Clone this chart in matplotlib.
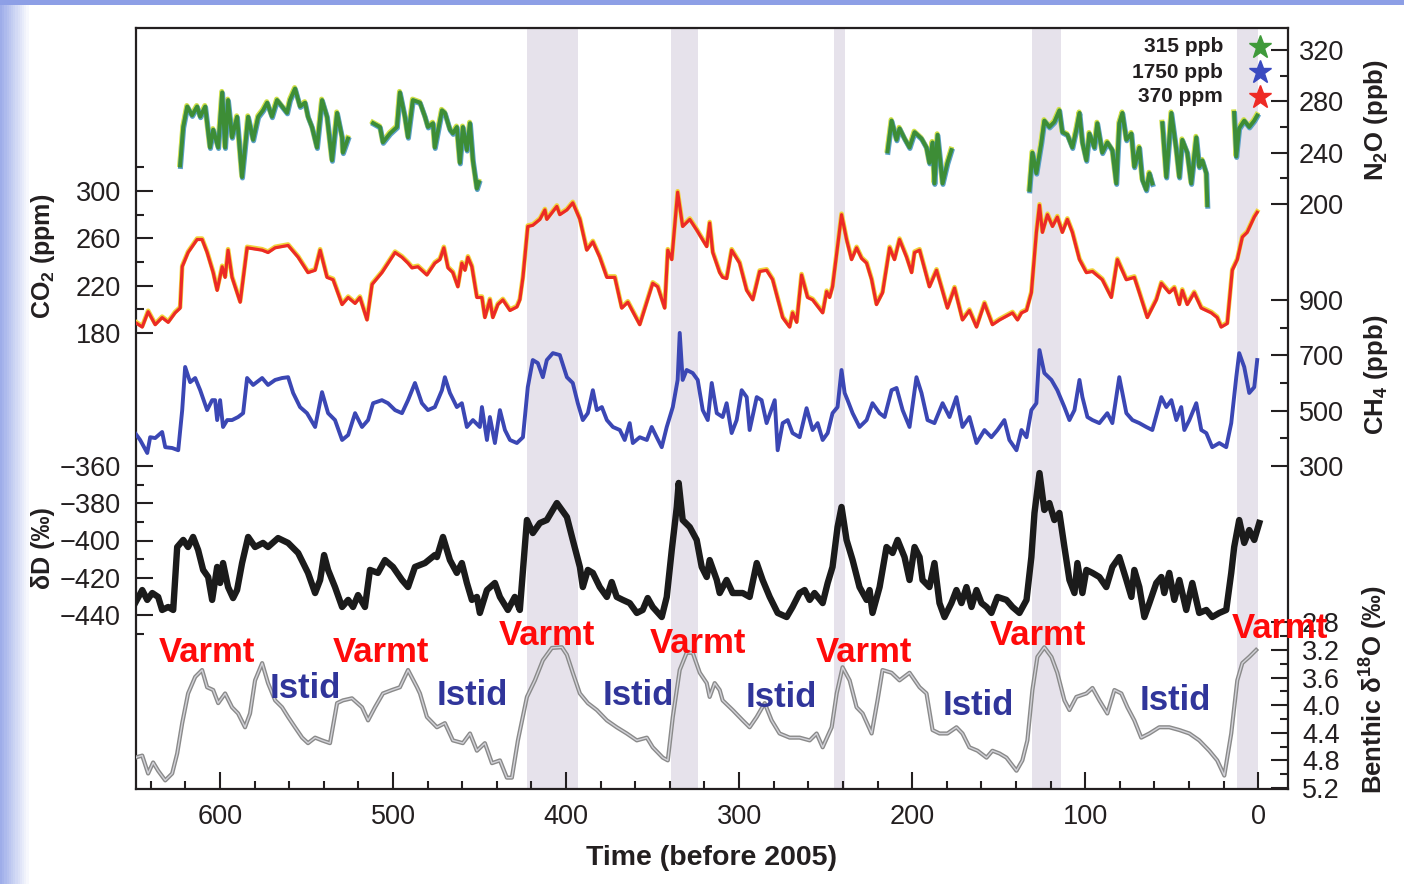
import numpy as np
import matplotlib
matplotlib.use("Agg")
import matplotlib.pyplot as plt
import matplotlib.patheffects as pe
from matplotlib.patches import Rectangle

plt.rcParams['font.family'] = ['Liberation Sans', 'DejaVu Sans']
plt.rcParams['mathtext.fontset'] = 'custom'
plt.rcParams['mathtext.rm'] = 'Liberation Sans'
plt.rcParams['mathtext.bf'] = 'Liberation Sans:bold'
plt.rcParams['mathtext.it'] = 'Liberation Sans:italic'

# ---------------- data (time in kyr before 2005) ----------------
CO2_T = [649.0, 644.9, 641.5, 637.4, 633.4, 629.9, 625.9, 623.0, 621.8, 618.4, 613.2, 610.3, 607.4, 603.9,
         601.6, 598.7, 597.0, 595.3, 593.0, 588.3, 584.3, 575.6, 572.2, 568.1, 560.6, 554.8, 549.1, 545.0,
         542.1, 538.1, 534.6, 529.4, 525.9, 521.9, 519.1, 515.0, 512.1, 506.4, 498.8, 494.8, 491.3, 489.0,
         485.6, 480.4, 475.8, 472.9, 470.6, 468.2, 465.4, 462.5, 460.2, 458.4, 456.7, 454.4, 451.5, 448.6,
         446.9, 444.0, 442.3, 439.4, 436.5, 432.4, 428.4, 426.7, 424.9, 422.1, 419.2, 415.1, 412.2, 411.1,
         405.3, 403.6, 399.5, 396.1, 392.0, 388.0, 384.5, 380.5, 376.4, 371.8, 367.8, 364.3, 357.4, 349.9,
         347.0, 343.0, 341.2, 338.9, 335.5, 332.6, 328.5, 324.5, 318.7, 317.0, 315.2, 311.2, 309.5, 307.2,
         304.3, 299.7, 295.6, 292.1, 288.1, 284.1, 280.6, 274.8, 270.8, 269.1, 266.7, 263.9, 260.4, 257.5,
         251.7, 249.4, 247.7, 246.0, 240.8, 237.9, 235.0, 232.1, 229.2, 226.3, 223.4, 220.6, 217.1, 213.0,
         210.2, 207.3, 203.2, 200.3, 198.6, 195.7, 190.0, 185.9, 179.6, 175.5, 170.9, 166.9, 162.8, 158.2,
         153.6, 149.5, 142.0, 139.1, 136.8, 133.9, 131.1, 128.2, 126.4, 124.7, 121.8, 118.9, 116.1, 113.2,
         110.3, 107.4, 103.3, 99.3, 95.8, 90.1, 84.9, 81.4, 76.2, 71.6, 68.7, 64.1, 58.9, 56.0, 51.4, 48.5,
         45.6, 43.9, 41.0, 37.0, 32.9, 27.1, 23.7, 21.4, 17.9, 15.0, 12.1, 9.2, 6.4, 2.3, 0.6]
CO2_V = [189, 185, 198, 187, 193, 189, 197, 201, 236, 248, 259, 259, 248, 231,
         216, 236, 227, 250, 227, 206, 252, 250, 248, 252, 254, 244, 231, 233,
         250, 227, 225, 204, 210, 205, 210, 191, 221, 231, 248, 244, 239, 235,
         236, 229, 239, 242, 252, 235, 231, 219, 239, 233, 244, 236, 210, 210,
         193, 208, 193, 204, 208, 199, 202, 208, 227, 270, 271, 276, 284, 276,
         287, 280, 284, 290, 276, 250, 257, 244, 227, 227, 201, 206, 187, 222,
         219, 201, 250, 242, 299, 270, 276, 267, 253, 273, 248, 231, 227, 226,
         250, 239, 216, 208, 232, 233, 225, 193, 185, 197, 189, 229, 210, 208,
         197, 215, 210, 219, 280, 259, 242, 252, 243, 239, 225, 204, 214, 252,
         242, 259, 244, 231, 248, 250, 219, 233, 201, 218, 191, 199, 185, 205,
         187, 191, 197, 191, 197, 199, 214, 265, 288, 265, 280, 270, 278, 265,
         276, 265, 242, 231, 232, 225, 210, 242, 225, 227, 214, 193, 208, 222, 214, 218,
         204, 216, 204, 214, 201, 197, 193, 185, 188, 233, 242, 261, 265, 278, 282]

CH4_T = [649.0, 646.1, 642.0, 640.3, 637.4, 633.4, 631.6, 627.6, 624.1, 621.8, 620.1, 617.2, 614.3, 611.4,
         607.4, 604.5, 602.8, 601.6, 599.9, 598.2, 595.8, 593.0, 589.5, 586.6, 584.3, 580.8, 575.6, 572.2,
         568.1, 564.1, 560.6, 557.7, 553.7, 549.7, 545.0, 541.0, 537.5, 533.5, 529.4, 525.9, 521.9, 517.9,
         514.4, 511.5, 506.4, 502.9, 498.8, 494.8, 491.3, 487.3, 483.3, 479.8, 475.8, 471.7, 470.0, 467.1,
         463.1, 460.2, 457.3, 453.8, 449.8, 448.6, 445.7, 444.0, 441.1, 438.2, 435.3, 432.4, 428.4, 424.9,
         422.1, 419.2, 416.3, 413.4, 411.1, 407.6, 403.6, 399.5, 396.1, 393.2, 390.3, 387.4, 384.5, 382.2,
         379.3, 376.4, 372.9, 368.9, 366.1, 363.2, 361.4, 357.4, 353.3, 350.5, 347.6, 344.7, 341.8, 338.3,
         335.5, 334.3, 332.6, 330.3, 326.8, 323.9, 321.0, 318.1, 315.8, 312.9, 309.5, 307.2, 304.3, 301.4,
         298.5, 295.6, 293.9, 289.8, 287.0, 284.1, 279.4, 277.7, 274.8, 271.9, 269.1, 265.0, 261.0, 257.5,
         254.6, 251.7, 248.8, 246.0, 243.1, 240.8, 239.0, 237.3, 234.4, 230.4, 226.3, 222.9, 218.8, 215.9,
         211.9, 209.0, 205.5, 201.5, 197.5, 194.6, 191.1, 187.1, 182.4, 178.4, 174.4, 170.9, 166.9, 162.8,
         158.2, 154.2, 150.7, 146.7, 143.8, 139.7, 136.8, 133.9, 131.1, 128.2, 126.4, 123.6, 119.5, 116.1,
         112.0, 109.1, 106.2, 103.3, 101.6, 98.7, 95.8, 91.8, 87.2, 84.3, 80.3, 76.2, 72.7, 68.7, 64.7, 61.2,
         56.0, 53.1, 50.2, 47.3, 44.5, 42.7, 39.8, 35.8, 32.9, 30.0, 26.6, 22.5, 18.5, 15.6, 12.7, 11.0,
         8.1, 5.2, 2.3, 0.6]
CH4_V = [419, 394, 347, 404, 401, 423, 368, 365, 357, 502, 658, 603, 618, 574,
         502, 538, 538, 466, 538, 441, 466, 466, 477, 491, 618, 593, 618, 593,
         611, 618, 621, 564, 513, 491, 441, 567, 491, 466, 394, 412, 491, 441,
         466, 527, 538, 527, 502, 491, 538, 600, 527, 502, 513, 574, 621, 564,
         513, 527, 441, 466, 441, 513, 394, 477, 383, 502, 430, 394, 383, 404,
         585, 683, 672, 621, 683, 708, 701, 621, 600, 527, 466, 491, 574, 502,
         513, 466, 441, 430, 394, 455, 383, 404, 394, 441, 404, 368, 441, 513,
         611, 781, 611, 647, 636, 611, 502, 466, 600, 491, 477, 527, 419, 466,
         574, 549, 430, 549, 538, 455, 538, 357, 455, 466, 419, 404, 509, 430,
         455, 394, 419, 491, 513, 647, 564, 538, 491, 441, 466, 527, 491, 477,
         574, 582, 502, 441, 621, 564, 466, 455, 527, 477, 549, 441, 477, 383,
         430, 404, 430, 466, 394, 357, 430, 404, 502, 527, 719, 636, 611, 574,
         513, 466, 502, 611, 549, 477, 466, 455, 491, 455, 621, 491, 466, 455, 441, 430,
         549, 513, 538, 466, 513, 430, 466, 527, 430, 419, 368, 383, 368, 455, 621, 708,
         658, 564, 585, 683]

# N2O has gaps in the record (nan separates the pieces)
N2O_T = [623.0, 621.2, 618.9, 616.1, 613.2, 611.4, 608.5, 605.7, 603.9, 601.0, 598.7, 597.0, 595.3, 593.0,
         590.1, 587.2, 583.7, 580.8, 577.9, 575.1, 572.7, 569.9, 567.0, 564.1, 561.2, 559.5, 556.6, 553.7,
         550.8, 549.1, 546.8, 543.9, 541.0, 538.1, 535.2, 532.3, 529.4, 528.9, 526.0, np.nan,
         511.5, 507.5, 505.8, 501.7, 497.7, 496.0, 493.1, 491.3, 488.5, 484.4, 481.5, 479.8, 476.9, 475.8,
         471.7, 470.0, 467.1, 465.4, 463.1, 461.3, 459.6, 457.3, 455.5, 453.8, 451.5, 450.3, np.nan,
         214.2, 211.9, 209.0, 207.3, 204.4, 201.5, 198.6, 194.6, 191.7, 190.0, 188.2, 187.1, 185.3, 182.4,
         179.6, 177.3, np.nan,
         132.2, 130.5, 128.2, 125.3, 123.6, 120.7, 117.8, 114.9, 113.2, 110.3, 107.4, 105.1, 103.3, 101.6,
         99.3, 97.6, 94.7, 93.0, 90.1, 87.2, 84.3, 82.0, 80.3, 78.5, 76.2, 73.3, 71.6, 68.7, 67.0, 64.7,
         62.9, 61.2, np.nan,
         55.4, 53.1, 50.2, 47.3, 45.6, 43.9, 41.0, 38.7, 35.8, 34.1, 32.3, 30.0, 29.4, np.nan,
         13.9, 12.7, 11.0, 8.1, 5.2, 2.3, 0.6]
N2O_V = [230, 260, 276, 269, 276, 268, 276, 244, 258, 244, 287, 244, 281, 252,
         268, 221, 268, 250, 268, 273, 279, 268, 281, 276, 271, 281, 290, 276,
         279, 268, 260, 244, 281, 268, 234, 271, 252, 240, 251, np.nan,
         263, 260, 248, 255, 260, 287, 268, 252, 281, 279, 268, 260, 263, 244,
         273, 271, 258, 255, 260, 232, 260, 242, 263, 234, 212, 217, np.nan,
         241, 265, 250, 259, 251, 244, 256, 251, 244, 232, 248, 216, 254, 216,
         232, 242, np.nan,
         211, 240, 224, 248, 265, 260, 264, 273, 256, 254, 244, 258, 271, 248,
         234, 255, 244, 263, 240, 248, 242, 216, 263, 271, 250, 255, 229, 244, 219, 211,
         224, 216, np.nan,
         263, 221, 271, 242, 221, 250, 240, 216, 252, 229, 234, 224, 199, np.nan,
         271, 237, 259, 265, 260, 265, 269]

DD_T = [649.0, 644.9, 642.0, 639.1, 635.7, 633.4, 629.9, 627.0, 624.7, 621.2, 618.4, 615.5, 612.6, 609.7,
        606.8, 604.5, 601.6, 599.9, 598.2, 595.3, 592.4, 590.1, 587.2, 583.7, 579.7, 575.1, 572.2, 566.4,
        560.6, 554.8, 549.1, 545.0, 542.1, 539.8, 537.5, 533.5, 529.4, 525.9, 523.1, 520.2, 516.2, 513.3,
        508.7, 504.6, 500.0, 494.8, 491.3, 487.3, 481.5, 475.8, 474.6, 471.1, 467.1, 463.1, 460.2, 457.3,
        454.4, 451.5, 449.8, 445.7, 441.1, 438.2, 433.6, 429.6, 426.7, 422.6, 419.2, 415.1, 411.1, 405.3,
        399.5, 396.1, 392.0, 390.3, 387.4, 384.5, 380.5, 376.4, 373.6, 370.7, 367.2, 363.2, 359.1, 355.7,
        352.8, 349.9, 344.7, 341.8, 338.9, 336.0, 334.9, 332.6, 328.5, 324.5, 321.6, 318.7, 317.0, 312.9,
        311.2, 307.2, 303.7, 297.9, 293.9, 289.8, 286.4, 282.3, 277.7, 272.5, 269.1, 265.0, 262.1, 259.2,
        256.4, 251.7, 248.8, 246.0, 243.1, 240.8, 237.9, 234.4, 230.4, 226.3, 224.6, 222.9, 218.8, 214.8,
        211.3, 208.4, 204.4, 201.5, 198.6, 195.7, 194.0, 190.0, 187.1, 184.2, 181.3, 177.3, 174.4, 171.5,
        168.6, 165.7, 162.8, 159.9, 157.0, 154.2, 150.7, 145.5, 142.0, 138.0, 133.9, 131.1, 129.3, 126.4,
        123.6, 120.7, 117.8, 114.9, 112.0, 109.1, 106.2, 104.5, 101.6, 99.3, 95.8, 91.8, 87.8, 84.3, 80.3,
        76.2, 73.3, 71.6, 68.7, 65.8, 62.9, 58.9, 56.0, 54.3, 51.4, 48.5, 45.6, 41.6, 38.1, 34.1, 30.0,
        26.6, 22.5, 18.5, 15.6, 13.9, 11.0, 8.1, 5.2, 2.3, -0.6]
DD_V = [-433.6, -426.6, -431.9, -428.2, -430.3, -437.3, -435.7, -437.3, -403.5, -399.7, -403.5, -398.1,
        -405.1, -415.8, -419.6, -431.9, -414.2, -422.8, -412.1, -425.0, -430.9, -426.6, -412.1, -398.1,
        -403.5, -401.3, -403.5, -398.7, -401.3, -406.7, -417.4, -428.2, -421.2, -407.8, -415.8, -425.0,
        -435.7, -431.9, -435.7, -429.3, -435.7, -415.8, -417.4, -410.5, -414.2, -421.2, -425.0, -414.2,
        -412.1, -407.8, -408.9, -398.1, -410.5, -417.4, -412.1, -422.8, -431.9, -430.3, -438.9, -426.6,
        -422.8, -430.3, -437.3, -430.3, -437.3, -389.0, -396.0, -390.6, -389.0, -379.9, -387.4, -399.7,
        -414.2, -425.0, -415.8, -417.4, -425.0, -430.3, -422.3, -430.3, -431.9, -433.6, -438.9, -437.3,
        -430.9, -435.7, -441.1, -430.3, -405.1, -382.0, -369.1, -389.0, -392.8, -399.7, -414.2, -419.6,
        -410.5, -421.2, -428.2, -421.2, -428.2, -428.2, -430.3, -412.1, -421.2, -430.3, -438.9, -441.1,
        -435.7, -428.2, -426.6, -431.9, -428.2, -433.6, -422.8, -414.2, -392.8, -382.0, -399.7, -410.5,
        -425.0, -431.9, -426.6, -438.9, -425.0, -403.5, -406.7, -399.7, -408.9, -421.2, -403.5, -408.9,
        -421.2, -425.0, -412.1, -433.6, -441.1, -433.6, -426.6, -433.6, -425.0, -435.7, -426.6, -433.6,
        -435.7, -438.9, -430.3, -431.9, -435.7, -438.9, -431.9, -408.9, -385.2, -363.8, -383.6, -379.9,
        -389.0, -385.2, -403.5, -421.2, -428.2, -412.1, -428.2, -415.8, -417.4, -419.6, -425.0, -414.2,
        -408.9, -421.2, -430.3, -415.8, -425.0, -441.1, -433.6, -422.8, -419.6, -428.2, -417.4, -431.9,
        -421.2, -437.3, -422.8, -438.9, -437.3, -441.1, -438.9, -437.3, -417.4, -403.5, -389.0, -401.3,
        -394.4, -399.7, -390.6]

D18O_T = [649.0, 644.9, 641.5, 638.6, 635.7, 631.6, 627.6, 624.7, 621.8, 618.4, 614.3, 610.3, 607.4, 603.9,
          601.0, 597.0, 593.0, 589.5, 585.5, 582.6, 579.7, 575.6, 572.2, 568.1, 564.1, 560.6, 556.6, 552.5,
          549.1, 545.0, 541.0, 536.4, 532.3, 528.9, 523.7, 517.9, 514.4, 510.4, 505.8, 500.6, 496.0, 491.3,
          486.1, 484.4, 480.4, 474.6, 470.0, 465.4, 459.6, 455.5, 451.5, 446.9, 442.8, 438.2, 434.2, 431.3,
          427.8, 422.6, 418.0, 413.4, 408.2, 402.4, 399.5, 396.1, 392.0, 387.4, 382.2, 376.4, 370.7, 364.9,
          359.1, 353.3, 349.9, 344.1, 341.2, 338.3, 334.3, 330.3, 326.8, 322.7, 318.7, 317.0, 314.1, 311.2,
          309.5, 303.7, 297.9, 293.9, 289.8, 285.2, 281.2, 276.6, 270.8, 265.0, 259.2, 255.2, 251.7, 246.5,
          243.6, 240.2, 236.1, 232.1, 228.6, 223.4, 220.0, 217.1, 211.9, 207.3, 201.5, 195.7, 191.7, 188.2,
          184.2, 179.6, 174.4, 170.9, 166.9, 162.2, 157.0, 153.6, 149.5, 145.5, 139.7, 136.3, 133.4, 130.5,
          127.6, 123.6, 119.5, 116.1, 112.0, 109.1, 105.1, 99.3, 95.8, 91.8, 87.2, 83.1, 79.1, 75.6, 71.6,
          67.6, 62.9, 57.2, 51.4, 45.6, 39.8, 34.1, 28.3, 23.7, 19.6, 15.6, 12.1, 9.2, 5.2, 1.2]
D18O_V = [4.76, 4.73, 4.99, 4.83, 4.95, 5.09, 4.99, 4.70, 4.26, 3.83, 3.59, 3.49, 3.74, 3.78,
          3.97, 3.83, 4.03, 4.12, 4.32, 4.12, 3.64, 3.39, 3.68, 3.93, 4.03, 4.17, 4.32, 4.47,
          4.55, 4.47, 4.51, 4.55, 3.97, 3.93, 3.90, 4.03, 4.22, 4.03, 3.83, 3.78, 3.74, 3.49,
          3.74, 3.83, 4.17, 4.32, 4.26, 4.51, 4.55, 4.41, 4.66, 4.55, 4.84, 4.80, 5.05, 5.05,
          4.51, 3.88, 3.64, 3.35, 3.17, 3.16, 3.27, 3.53, 3.83, 3.97, 4.07, 4.22, 4.32, 4.41,
          4.51, 4.47, 4.61, 4.76, 4.80, 4.17, 3.49, 3.24, 3.24, 3.53, 3.68, 3.88, 3.68, 3.78,
          3.93, 4.07, 4.22, 4.32, 4.17, 3.97, 4.22, 4.41, 4.47, 4.47, 4.51, 4.41, 4.61, 4.32,
          3.83, 3.45, 3.64, 4.03, 4.12, 4.41, 3.93, 3.49, 3.53, 3.64, 3.53, 3.74, 3.83, 4.36,
          4.41, 4.41, 4.32, 4.41, 4.61, 4.66, 4.76, 4.66, 4.70, 4.76, 4.95, 4.80, 4.51, 3.78,
          3.30, 3.16, 3.30, 3.53, 3.93, 4.07, 3.88, 3.83, 3.75, 3.93, 4.12, 3.78, 3.83, 4.03, 4.22,
          4.47, 4.41, 4.32, 4.32, 4.36, 4.41, 4.51, 4.66, 4.80, 5.02, 4.41, 3.64, 3.39, 3.30, 3.20]

# interglacial (warm) bands, kyr
BANDS = [(422.7, 393.3), (339.6, 324.0), (244.9, 238.6), (130.6, 113.9), (12.2, 0.0)]

# modern reference values shown as stars
MODERN_LABELS = ['315 ppb', '1750 ppb', '370 ppm']
MODERN_COLORS = ['#3f9a3a', '#3a4ac0', '#ee2a24']

# tick values
X_MAJOR = [600, 500, 400, 300, 200, 100, 0]
X_MINOR = list(range(0, 641, 20))
CO2_TICKS = [180, 220, 260, 300]
CO2_MINOR = [200, 240, 280, 320]
N2O_TICKS = [200, 240, 280, 320]
N2O_MINOR = [220, 260, 300]
CH4_TICKS = [300, 500, 700, 900]
CH4_MINOR = [400, 600, 800]
DD_TICKS = [-440, -420, -400, -380, -360]
DD_MINOR = [-450, -430, -410, -390, -370]
D18O_TICKS = [2.8, 3.2, 3.6, 4.0, 4.4, 4.8, 5.2]
D18O_MINOR = [3.0, 3.4, 3.8, 4.2, 4.6, 5.0]

WARM_LABEL = 'Varmt'
COLD_LABEL = 'Istid'

# ---------------- layout ----------------
W, H = 1404, 884
fig = plt.figure(figsize=(W / 100, H / 100), dpi=100, facecolor='white')


def fx(px):
    return px / W


def fy(py):
    return 1 - py / H


# page decoration (bluish slide border)
fig.add_artist(Rectangle((0, fy(5)), 1, 5 / H, transform=fig.transFigure,
                         color='#8d9fe6', zorder=-5, lw=0))
for i, a in enumerate(np.linspace(1.0, 0.0, 14)):
    fig.add_artist(Rectangle((fx(i * 2.2), 0), 2.2 / W, 1, transform=fig.transFigure,
                             color='#8d9fe6', alpha=a * 0.85, zorder=-5, lw=0))

AX_L, AX_R, AX_T, AX_B = 136, 1288, 28, 789
ax = fig.add_axes([fx(AX_L), fy(AX_B), (AX_R - AX_L) / W, (AX_B - AX_T) / H])
ax.set_xlim(648.5, -17.2)
ax.set_ylim(0, 1)
ax.set_yticks([])
INK = '#231f20'
for s in ax.spines.values():
    s.set_linewidth(1.6)
    s.set_color(INK)
ax.set_xticks(X_MAJOR)
ax.set_xticklabels([str(v) for v in X_MAJOR])
ax.set_xticks(X_MINOR, minor=True)
ax.tick_params(axis='x', which='major', direction='in', length=12, width=1.5,
               labelsize=19.5, pad=11, colors=INK)
ax.tick_params(axis='x', which='minor', direction='in', length=6, width=1.5, colors=INK)

for a, b in BANDS:
    ax.axvspan(a, b, color='#e6e2eb', lw=0, zorder=0)


def frac(py):
    return (AX_B - py) / (AX_B - AX_T)


def twin(v1, py1, v2, py2, side, major, minor, labels, pad):
    t = ax.twinx()
    f1, f2 = frac(py1), frac(py2)
    slope = (v2 - v1) / (f2 - f1)
    t.set_ylim(v1 - f1 * slope, v1 + (1 - f1) * slope)
    for s in t.spines.values():
        s.set_visible(False)
    if side == 'left':
        t.yaxis.tick_left()
    else:
        t.yaxis.tick_right()
    t.set_yticks(major)
    t.set_yticklabels(labels)
    t.set_yticks(minor, minor=True)
    t.tick_params(axis='y', which='major', direction='in', length=12, width=1.5,
                  labelsize=19.5, pad=pad, colors=INK)
    t.tick_params(axis='y', which='minor', direction='in', length=6, width=1.5, colors=INK)
    return t


ax_n2o = twin(320, 50, 200, 204, 'right', N2O_TICKS, N2O_MINOR, [str(v) for v in N2O_TICKS], 8)
ax_co2 = twin(300, 191, 180, 333, 'left', CO2_TICKS, CO2_MINOR, [str(v) for v in CO2_TICKS], 11)
ax_ch4 = twin(900, 300, 300, 466, 'right', CH4_TICKS, CH4_MINOR, [str(v) for v in CH4_TICKS], 8)
ax_dd = twin(-360, 466, -440, 615, 'left', DD_TICKS, DD_MINOR,
             ['\u2212' + str(-v) for v in DD_TICKS], 11)
ax_d18 = twin(3.2, 650, 5.2, 788, 'right', D18O_TICKS, D18O_MINOR,
              ['%.1f' % v for v in D18O_TICKS], 10)

ax_n2o.plot(N2O_T, N2O_V, color='#3d8d36', lw=2.8, solid_joinstyle='round',
            path_effects=[pe.Stroke(linewidth=3.6, foreground='#cfe046', offset=(-0.3, 0.7)),
                          pe.Stroke(linewidth=3.6, foreground='#5aa0c8', offset=(0.3, -0.7)),
                          pe.Normal()])
ax_co2.plot(CO2_T, CO2_V, color='#ec2a26', lw=2.3, solid_joinstyle='round',
            path_effects=[pe.Stroke(linewidth=3.3, foreground='#f1d33c', offset=(0, 0.7)),
                          pe.Normal()])
ax_ch4.plot(CH4_T, CH4_V, color='#3b47b4', lw=2.8, solid_joinstyle='round')
ax_dd.plot(DD_T, DD_V, color='#1b1b1b', lw=4.6, solid_joinstyle='round')
ax_d18.plot(D18O_T, D18O_V, color='#d2d2d8', lw=1.0, solid_joinstyle='round',
            path_effects=[pe.Stroke(linewidth=3.0, foreground='#8a8a8a'), pe.Normal()])

# modern-value stars and their labels
for i, (lab, col) in enumerate(zip(MODERN_LABELS, MODERN_COLORS)):
    py = 47 + 25 * i
    fig.text(fx(1223), fy(py), lab, ha='right', va='center', fontsize=15,
             fontweight='bold', color=INK)
    ax.plot([(1260 - AX_L) / (AX_R - AX_L)], [frac(py)], marker='*', ms=17, color=col,
            mec=col, transform=ax.transAxes, clip_on=False, zorder=5)

# axis titles
fig.text(fx(43), fy(256), 'CO$_\\mathbf{2}$ (ppm)', rotation=90, ha='center', va='center',
         fontsize=18, fontweight='bold', color=INK)
fig.text(fx(43), fy(548), '\u03b4D (\u2030)', rotation=90, ha='center', va='center',
         fontsize=18, fontweight='bold', color=INK)
fig.text(fx(1376), fy(120), 'N$_\\mathbf{2}$O (ppb)', rotation=90, ha='center', va='center',
         fontsize=18.5, fontweight='bold', color=INK)
fig.text(fx(1376), fy(375), 'CH$_\\mathbf{4}$ (ppb)', rotation=90, ha='center', va='center',
         fontsize=18.5, fontweight='bold', color=INK)
fig.text(fx(1374), fy(690), 'Benthic \u03b4$^\\mathbf{18}$O (\u2030)', rotation=90, ha='center',
         va='center', fontsize=18.5, fontweight='bold', color=INK)
fig.text(fx(711), fy(858), 'Time (before 2005)', ha='center', va='center', fontsize=20.5,
         fontweight='bold', color=INK)

# warm / glacial annotations
WARM_POS = [(207, 662), (381, 662), (547, 645), (698, 653), (864, 662), (1038, 645), (1280, 638)]
COLD_POS = [(305, 698), (472, 705), (638, 705), (781, 707), (978, 715), (1175, 710)]
for x, y in WARM_POS:
    fig.text(fx(x), fy(y), WARM_LABEL, ha='center', va='baseline', fontsize=25,
             fontweight='bold', color='#ff0a0a', zorder=10)
for x, y in COLD_POS:
    fig.text(fx(x), fy(y), COLD_LABEL, ha='center', va='baseline', fontsize=25,
             fontweight='bold', color='#30359a', zorder=10)

fig.savefig('out.png', dpi=100, facecolor=fig.get_facecolor())
